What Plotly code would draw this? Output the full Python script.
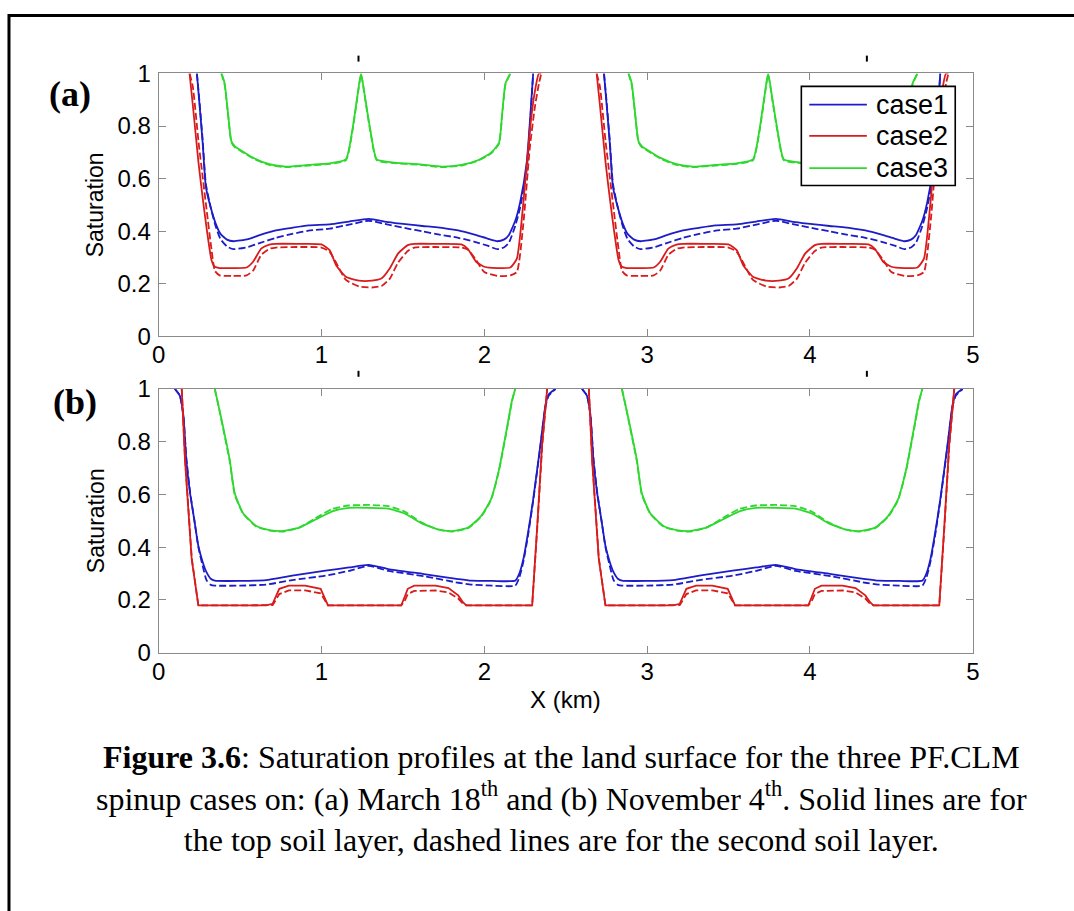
import plotly.graph_objects as go

# ---------------- data (x in km, saturation) ----------------
# Panel (a) : March 18th
xa_case1_t1 = [0.235, 0.25, 0.27, 0.29, 0.32, 0.35, 0.38, 0.42, 0.46, 0.55, 0.62, 0.72, 0.82, 0.92, 1.05, 1.17, 1.29, 1.41, 1.53, 1.62, 1.70, 1.84, 1.94, 2.02, 2.08, 2.12, 2.15, 2.19, 2.22, 2.26, 2.30]
xa_case1_t2 = [2.735, 2.75, 2.77, 2.79, 2.82, 2.85, 2.88, 2.92, 2.96, 3.05, 3.12, 3.22, 3.32, 3.42, 3.55, 3.67, 3.79, 3.91, 4.03, 4.12, 4.20, 4.34, 4.44, 4.52, 4.58, 4.62, 4.65, 4.69, 4.72, 4.76, 4.80]
ya_case1_top = [1.0, 0.89, 0.74, 0.57, 0.49, 0.43, 0.39, 0.368, 0.362, 0.37, 0.385, 0.403, 0.413, 0.422, 0.426, 0.437, 0.447, 0.435, 0.426, 0.42, 0.416, 0.403, 0.387, 0.372, 0.362, 0.368, 0.385, 0.44, 0.51, 0.66, 1.0]
ya_case1_second = [1.0, 0.9, 0.75, 0.58, 0.49, 0.42, 0.37, 0.342, 0.332, 0.34, 0.355, 0.375, 0.39, 0.402, 0.41, 0.425, 0.44, 0.425, 0.41, 0.40, 0.39, 0.375, 0.36, 0.345, 0.332, 0.338, 0.355, 0.42, 0.49, 0.63, 1.0]

xa_case2_t1 = [0.19, 0.21, 0.245, 0.27, 0.295, 0.325, 0.345, 0.375, 0.45, 0.54, 0.58, 0.63, 0.68, 0.72, 0.85, 1.0, 1.05, 1.09, 1.15, 1.23, 1.31, 1.37, 1.42, 1.47, 1.53, 1.57, 1.70, 1.86, 1.90, 1.95, 2.0, 2.08, 2.16, 2.20, 2.24, 2.28, 2.31, 2.335, 2.35]
xa_case2_t2 = [2.69, 2.71, 2.745, 2.77, 2.795, 2.825, 2.845, 2.875, 2.95, 3.04, 3.08, 3.13, 3.18, 3.22, 3.35, 3.5, 3.55, 3.59, 3.65, 3.73, 3.81, 3.87, 3.92, 3.97, 4.03, 4.07, 4.20, 4.36, 4.40, 4.45, 4.5, 4.58, 4.66, 4.70, 4.74, 4.78, 4.81, 4.835, 4.85]
ya_case2_top = [1.0, 0.88, 0.66, 0.53, 0.41, 0.29, 0.265, 0.26, 0.26, 0.262, 0.284, 0.334, 0.349, 0.352, 0.352, 0.35, 0.328, 0.271, 0.227, 0.212, 0.212, 0.221, 0.259, 0.315, 0.347, 0.352, 0.352, 0.35, 0.332, 0.284, 0.265, 0.26, 0.262, 0.296, 0.51, 0.786, 0.93, 1.0, 1.0]
ya_case2_second = [1.0, 0.95, 0.74, 0.61, 0.48, 0.33, 0.25, 0.232, 0.23, 0.232, 0.25, 0.31, 0.333, 0.338, 0.34, 0.338, 0.322, 0.28, 0.215, 0.19, 0.186, 0.192, 0.22, 0.28, 0.325, 0.338, 0.34, 0.338, 0.33, 0.29, 0.245, 0.23, 0.232, 0.245, 0.43, 0.72, 0.87, 0.96, 1.0]

xa_case3_t1 = [0.385, 0.395, 0.406, 0.426, 0.447, 0.47, 0.497, 0.579, 0.68, 0.78, 0.92, 1.05, 1.15, 1.19, 1.22, 1.243, 1.27, 1.30, 1.34, 1.45, 1.59, 1.74, 1.86, 1.96, 2.04, 2.09, 2.11, 2.13, 2.16]
xa_case3_t2 = [2.885, 2.895, 2.906, 2.926, 2.947, 2.97, 2.997, 3.079, 3.18, 3.28, 3.42, 3.55, 3.65, 3.69, 3.72, 3.743, 3.77, 3.80, 3.84, 3.95, 4.09, 4.24, 4.36, 4.46, 4.54, 4.59, 4.61, 4.63, 4.66]
ya_case3_top = [1.0, 0.985, 0.96, 0.85, 0.742, 0.722, 0.711, 0.68, 0.655, 0.646, 0.652, 0.658, 0.673, 0.786, 0.912, 1.0, 0.90, 0.786, 0.673, 0.661, 0.655, 0.646, 0.652, 0.67, 0.698, 0.736, 0.849, 0.962, 1.0]
ya_case3_second = [1.0, 0.98, 0.955, 0.845, 0.738, 0.718, 0.708, 0.677, 0.652, 0.644, 0.65, 0.656, 0.67, 0.78, 0.905, 0.995, 0.895, 0.78, 0.67, 0.659, 0.653, 0.644, 0.65, 0.668, 0.695, 0.732, 0.845, 0.958, 1.0]

# Panel (b) : November 4th
xb_case1_t1 = [0.10, 0.13, 0.152, 0.17, 0.193, 0.22, 0.244, 0.27, 0.294, 0.32, 0.345, 0.50, 0.66, 0.82, 1.025, 1.17, 1.29, 1.41, 1.63, 1.84, 1.92, 2.05, 2.19, 2.215, 2.24, 2.27, 2.30, 2.345, 2.376, 2.396, 2.437]
xb_case1_t2 = [2.60, 2.63, 2.652, 2.67, 2.693, 2.72, 2.744, 2.77, 2.794, 2.82, 2.845, 3.00, 3.16, 3.32, 3.525, 3.67, 3.79, 3.91, 4.13, 4.34, 4.42, 4.55, 4.69, 4.715, 4.74, 4.77, 4.80, 4.845, 4.876, 4.896, 4.937]
yb_case1_top = [1.0, 0.975, 0.90, 0.73, 0.605, 0.50, 0.405, 0.345, 0.305, 0.28, 0.273, 0.272, 0.275, 0.292, 0.311, 0.323, 0.333, 0.317, 0.298, 0.279, 0.273, 0.272, 0.273, 0.30, 0.355, 0.46, 0.58, 0.79, 0.94, 0.98, 1.0]
yb_case1_second = [1.0, 0.975, 0.90, 0.74, 0.61, 0.50, 0.40, 0.33, 0.275, 0.257, 0.254, 0.254, 0.258, 0.275, 0.292, 0.31, 0.329, 0.31, 0.29, 0.265, 0.258, 0.254, 0.254, 0.285, 0.345, 0.45, 0.575, 0.785, 0.935, 0.975, 1.0]

xb_case2_t1 = [0.142, 0.162, 0.203, 0.244, 0.40, 0.66, 0.70, 0.72, 0.741, 0.80, 0.90, 0.995, 1.02, 1.04, 1.20, 1.35, 1.49, 1.51, 1.53, 1.57, 1.70, 1.78, 1.84, 1.87, 1.89, 2.10, 2.294, 2.325, 2.355, 2.386]
xb_case2_t2 = [2.642, 2.662, 2.703, 2.744, 2.90, 3.16, 3.20, 3.22, 3.241, 3.30, 3.40, 3.495, 3.52, 3.54, 3.70, 3.85, 3.99, 4.01, 4.03, 4.07, 4.20, 4.28, 4.34, 4.37, 4.39, 4.60, 4.794, 4.825, 4.855, 4.886]
yb_case2_top = [1.0, 0.73, 0.355, 0.179, 0.179, 0.179, 0.185, 0.215, 0.242, 0.254, 0.254, 0.242, 0.21, 0.179, 0.179, 0.179, 0.179, 0.21, 0.242, 0.254, 0.254, 0.245, 0.217, 0.19, 0.179, 0.179, 0.179, 0.48, 0.79, 1.0]
yb_case2_second = [1.0, 0.74, 0.36, 0.179, 0.179, 0.179, 0.18, 0.20, 0.222, 0.236, 0.236, 0.225, 0.20, 0.179, 0.179, 0.179, 0.179, 0.195, 0.222, 0.234, 0.236, 0.228, 0.205, 0.185, 0.179, 0.179, 0.179, 0.47, 0.78, 1.0]

xb_case3_t1 = [0.345, 0.37, 0.396, 0.437, 0.467, 0.518, 0.60, 0.68, 0.76, 0.863, 0.964, 1.066, 1.168, 1.29, 1.41, 1.51, 1.61, 1.716, 1.797, 1.90, 1.98, 2.04, 2.09, 2.14, 2.17, 2.19]
xb_case3_t2 = [2.845, 2.87, 2.896, 2.937, 2.967, 3.018, 3.10, 3.18, 3.26, 3.363, 3.464, 3.566, 3.668, 3.79, 3.91, 4.01, 4.11, 4.216, 4.297, 4.40, 4.48, 4.54, 4.59, 4.64, 4.67, 4.69]
yb_case3_top = [1.0, 0.93, 0.856, 0.73, 0.605, 0.53, 0.48, 0.465, 0.461, 0.474, 0.505, 0.536, 0.549, 0.549, 0.546, 0.528, 0.492, 0.467, 0.461, 0.474, 0.518, 0.58, 0.693, 0.856, 0.956, 1.0]
yb_case3_second = [1.0, 0.93, 0.85, 0.725, 0.60, 0.528, 0.478, 0.463, 0.459, 0.474, 0.51, 0.545, 0.558, 0.56, 0.556, 0.535, 0.495, 0.467, 0.459, 0.472, 0.515, 0.577, 0.69, 0.85, 0.953, 1.0]

case_names = ["case1", "case2", "case3"]
x_ticks = [0, 1, 2, 3, 4, 5]
y_ticks = [0, 0.2, 0.4, 0.6, 0.8, 1]
y_tick_text = ["0", "0.2", "0.4", "0.6", "0.8", "1"]

caption_text = (
    "<b>Figure 3.6</b>: Saturation profiles at the land surface for the three PF.CLM<br>"
    "spinup cases on: (a) March 18<sup>th</sup> and (b) November 4<sup>th</sup>. Solid lines are for<br>"
    "the top soil layer, dashed lines are for the second soil layer."
)

# ---------------- figure ----------------
COLORS = ["#1c1cc8", "#d81c1c", "#2ed82e"]
W, H = 1074, 911

# screen pixel (as photographed) -> figure pixel, measured with a calibration render
def qx(p):
    return (p - 3.0) / 0.994


def qy(p):
    return (p - 10.0) / 0.979


def fx(p):  # screen pixel -> paper x
    return qx(p) / W


def fy(p):  # screen pixel -> paper y
    return (H - qy(p)) / H


def both(t1, t2):
    return t1 + [None] + t2


fig = go.Figure()

panel_a = [
    (both(xa_case1_t1, xa_case1_t2), ya_case1_top, ya_case1_second),
    (both(xa_case2_t1, xa_case2_t2), ya_case2_top, ya_case2_second),
    (both(xa_case3_t1, xa_case3_t2), ya_case3_top, ya_case3_second),
]
panel_b = [
    (both(xb_case1_t1, xb_case1_t2), yb_case1_top, yb_case1_second),
    (both(xb_case2_t1, xb_case2_t2), yb_case2_top, yb_case2_second),
    (both(xb_case3_t1, xb_case3_t2), yb_case3_top, yb_case3_second),
]

for pi, (panel, xa, ya) in enumerate([(panel_a, "x", "y"), (panel_b, "x2", "y2")]):
    for ci, (xs, ytop, ysec) in enumerate(panel):
        shape = "linear" if (pi == 1 and ci == 1) else "spline"
        fig.add_trace(go.Scatter(
            x=xs, y=both(ytop, ytop), mode="lines",
            line=dict(color=COLORS[ci], width=1.8, shape=shape, smoothing=0.5),
            xaxis=xa, yaxis=ya, name=case_names[ci],
            legendgroup=case_names[ci], showlegend=False,
            hoverinfo="skip"))
        fig.add_trace(go.Scatter(
            x=xs, y=both(ysec, ysec), mode="lines",
            line=dict(color=COLORS[ci], width=1.8, dash="7px,3px", shape=shape, smoothing=0.5),
            xaxis=xa, yaxis=ya, name=case_names[ci] + " (2nd layer)",
            legendgroup=case_names[ci], showlegend=False,
            hoverinfo="skip"))

axis_common = dict(showline=True, linecolor="#8a8a8a", linewidth=1, mirror="ticks",
                   ticks="inside", ticklen=7, tickwidth=1, tickcolor="#8a8a8a",
                   showgrid=False, zeroline=False,
                   tickfont=dict(family="Liberation Sans", size=24, color="black"))

xdom = [fx(155.7), fx(975.7)]
fig.update_layout(
    width=W, height=H, margin=dict(l=0, r=0, t=0, b=0),
    paper_bgcolor="white", plot_bgcolor="white", showlegend=False,
    xaxis=dict(domain=xdom, anchor="y", range=[0, 5], tickvals=x_ticks,
               ticklabelstandoff=-3, **axis_common),
    yaxis=dict(domain=[fy(335.3), fy(70)], anchor="x", range=[0, 1],
               tickvals=y_ticks, ticktext=y_tick_text, ticklabelstandoff=2, **axis_common),
    xaxis2=dict(domain=xdom, anchor="y2", range=[0, 5], tickvals=x_ticks,
                ticklabelstandoff=-2, **axis_common),
    yaxis2=dict(domain=[fy(654.3), fy(388.3)], anchor="x2", range=[0, 1],
                tickvals=y_ticks, ticktext=y_tick_text, ticklabelstandoff=2, **axis_common),
)

annotations = [
    dict(text="Saturation", x=fx(92), y=fy(202.6), textangle=-90,
         font=dict(family="Liberation Sans", size=23, color="black")),
    dict(text="Saturation", x=fx(92), y=fy(521.3), textangle=-90,
         font=dict(family="Liberation Sans", size=23, color="black")),
    dict(text="X (km)", x=fx(565), y=fy(702),
         font=dict(family="Liberation Sans", size=24, color="black")),
    dict(text="<b>(a)</b>", x=fx(66.5), y=fy(91),
         font=dict(family="Liberation Serif", size=36, color="black")),
    dict(text="<b>(b)</b>", x=fx(71), y=fy(401),
         font=dict(family="Liberation Serif", size=36, color="black")),
    dict(text=caption_text, x=fx(561), y=fy(801), align="center",
         font=dict(family="Liberation Serif", size=32, color="black")),
]
for a in annotations:
    a.update(xanchor="center")

# legend (drawn as a box with line samples and labels)
legend_rows = [101.5, 133.0, 165.5]
for name, yc in zip(case_names, legend_rows):
    annotations.append(dict(text=name, x=fx(876), y=fy(yc), xanchor="left",
                            font=dict(family="Liberation Sans", size=27, color="black")))

for a in annotations:
    a.update(xref="paper", yref="paper", showarrow=False, yanchor="middle")
fig.update_layout(annotations=annotations)

shapes = [
    dict(type="rect", xref="paper", yref="paper", x0=fx(5), x1=1.05, y0=-0.05, y1=1 - 1.5 / H,
         line=dict(color="black", width=3), fillcolor="rgba(0,0,0,0)", layer="above"),
    dict(type="rect", xref="paper", yref="paper", x0=fx(803), x1=fx(958), y0=fy(183), y1=fy(83),
         line=dict(color="black", width=1.6), fillcolor="white", layer="above"),
]
for color, yc in zip(COLORS, legend_rows):
    shapes.append(dict(type="line", xref="paper", yref="paper", x0=fx(811), x1=fx(869),
                       y0=fy(yc), y1=fy(yc), line=dict(color=color, width=1.8), layer="above"))
for (dx, dy) in [(357, 55), (869, 55), (357, 373), (869, 373)]:
    shapes.append(dict(type="line", xref="paper", yref="paper",
                       x0=fx(dx), x1=fx(dx), y0=fy(dy + 3), y1=fy(dy - 3),
                       line=dict(color="black", width=2)))
fig.update_layout(shapes=shapes)

fig.write_html("out.html")
